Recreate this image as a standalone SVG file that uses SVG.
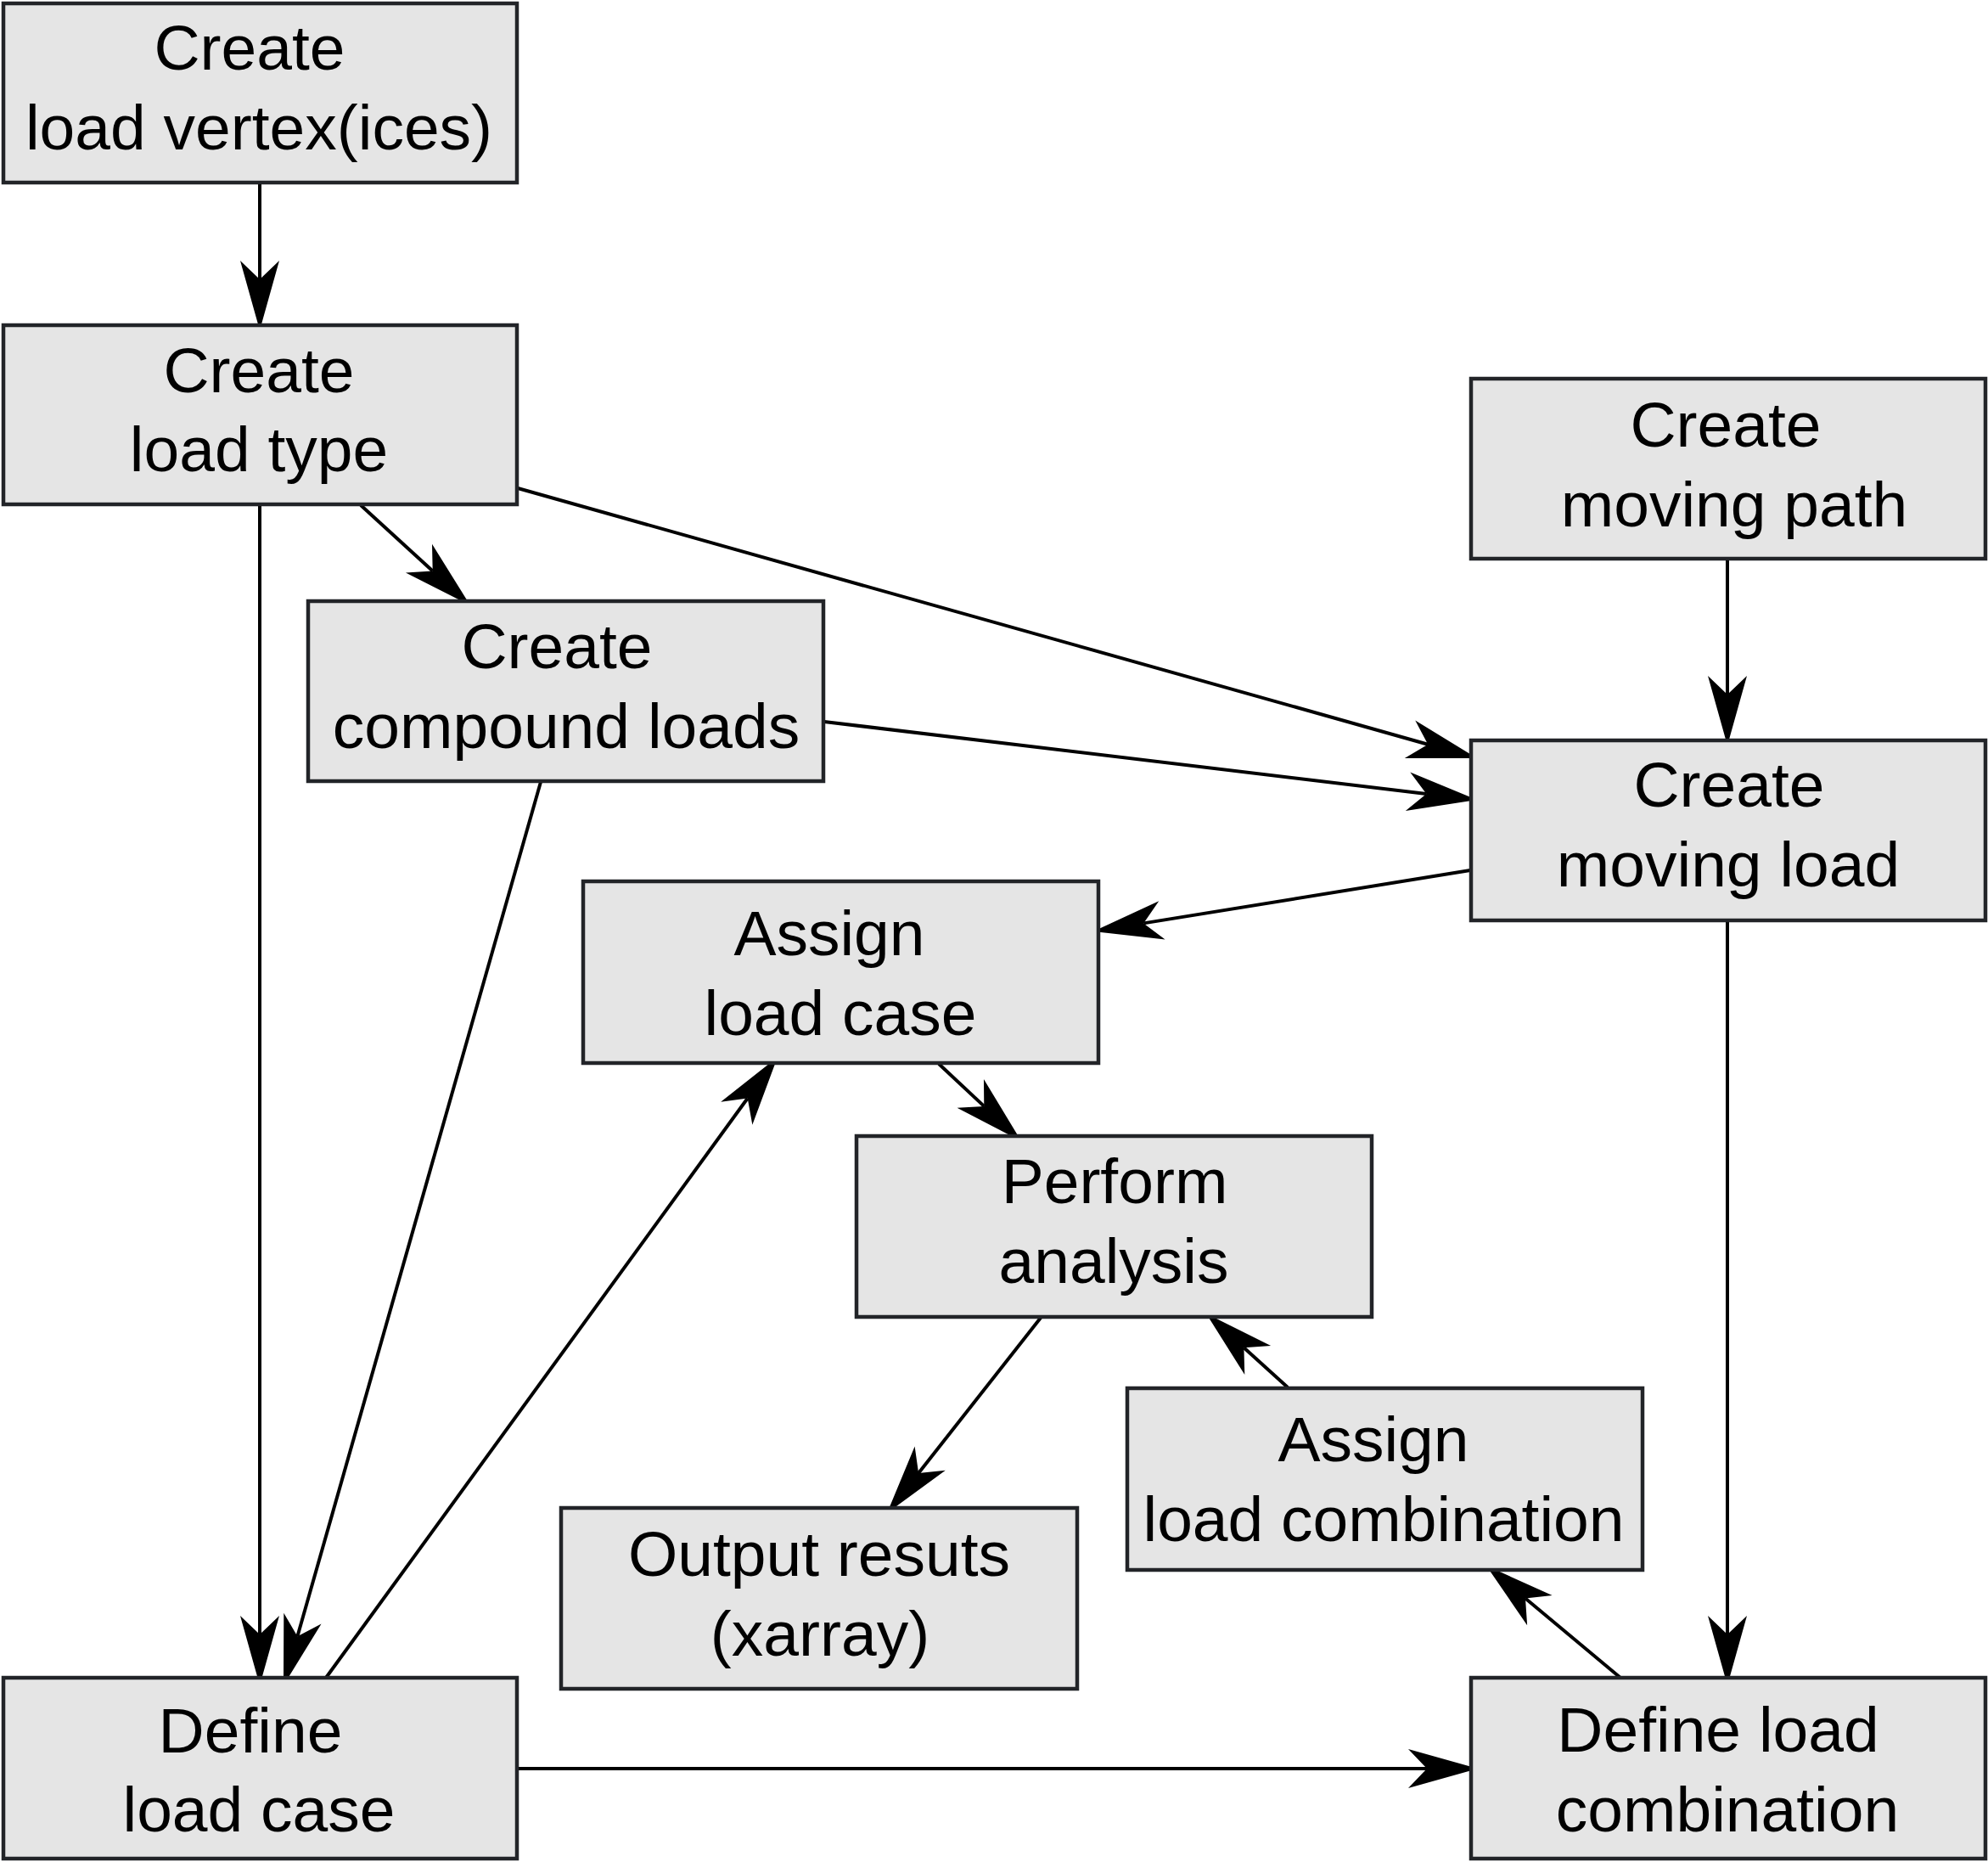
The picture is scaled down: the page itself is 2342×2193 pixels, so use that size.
<svg xmlns="http://www.w3.org/2000/svg" width="2342" height="2193" viewBox="0 0 2342 2193">
<style>
.box{fill:#e5e5e5;stroke:#222428;stroke-width:4.5}
.t{font-family:"Liberation Sans",Arial,sans-serif;font-size:75px;fill:#000;text-anchor:middle}
.c{stroke:#000;stroke-width:4;fill:none;marker-end:url(#ah)}
</style>
<defs>
<marker id="ah" markerUnits="userSpaceOnUse" viewBox="-24 -25 86 50" markerWidth="86" markerHeight="50" refX="0" refY="0" orient="auto">
<path d="M0,0 L-22,-23 L60,0 L-22,23 Z" fill="#000"/>
</marker>
</defs>
<rect width="2342" height="2193" fill="#fff"/>
<g id="connectors">
<line class="c" x1="306" y1="216" x2="306" y2="329"/>
<line class="c" x1="425" y1="595" x2="509.7" y2="672.5"/>
<line class="c" x1="610" y1="575" x2="1682.2" y2="876.7"/>
<line class="c" x1="971" y1="850" x2="1680.4" y2="934.9"/>
<line class="c" x1="2035" y1="660" x2="2035" y2="818"/>
<line class="c" x1="1732" y1="1025" x2="1347.2" y2="1087.4"/>
<line class="c" x1="1106" y1="1253" x2="1159.3" y2="1302.9"/>
<line class="c" x1="1226" y1="1552" x2="1082.1" y2="1734.9"/>
<line class="c" x1="1517" y1="1634" x2="1465.4" y2="1587.3"/>
<line class="c" x1="1909" y1="1976" x2="1797" y2="1882.5"/>
<line class="c" x1="2035" y1="1084" x2="2035" y2="1925"/>
<line class="c" x1="306" y1="594" x2="306" y2="1925"/>
<line class="c" x1="637" y1="921" x2="350.4" y2="1927.3"/>
<line class="c" x1="384" y1="1976" x2="880.7" y2="1293.5"/>
<line class="c" x1="610" y1="2083" x2="1681" y2="2083"/>
</g>
<g id="n1"><rect class="box" x="4" y="4" width="605" height="211"/>
<text class="t" x="294" y="82">Create</text><text class="t" x="305" y="176">load vertex(ices)</text></g>
<g id="n2"><rect class="box" x="4" y="383" width="605" height="211"/>
<text class="t" x="305" y="462">Create</text><text class="t" x="305" y="555">load type</text></g>
<g id="n3"><rect class="box" x="363" y="708" width="607" height="212"/>
<text class="t" x="656" y="787">Create</text><text class="t" x="667" y="881">compound loads</text></g>
<g id="n4"><rect class="box" x="1733" y="446" width="606" height="212"/>
<text class="t" x="2033" y="526">Create</text><text class="t" x="2043" y="620">moving path</text></g>
<g id="n5"><rect class="box" x="1733" y="872" width="606" height="212"/>
<text class="t" x="2037" y="950">Create</text><text class="t" x="2036" y="1044">moving load</text></g>
<g id="n6"><rect class="box" x="687" y="1038" width="607" height="214"/>
<text class="t" x="977" y="1125">Assign</text><text class="t" x="990" y="1219">load case</text></g>
<g id="n7"><rect class="box" x="1009" y="1338" width="607" height="213"/>
<text class="t" x="1313" y="1417">Perform</text><text class="t" x="1312" y="1511">analysis</text></g>
<g id="n8"><rect class="box" x="1328" y="1635" width="607" height="214"/>
<text class="t" x="1618" y="1721">Assign</text><text class="t" x="1630" y="1815">load combination</text></g>
<g id="n9"><rect class="box" x="661" y="1776" width="608" height="213"/>
<text class="t" x="965" y="1856">Output resuts</text><text class="t" x="966" y="1950">(xarray)</text></g>
<g id="n10"><rect class="box" x="4" y="1976" width="605" height="213"/>
<text class="t" x="295" y="2064">Define</text><text class="t" x="305" y="2157">load case</text></g>
<g id="n11"><rect class="box" x="1733" y="1976" width="606" height="213"/>
<text class="t" x="2024" y="2063">Define load</text><text class="t" x="2035" y="2157">combination</text></g>
</svg>
